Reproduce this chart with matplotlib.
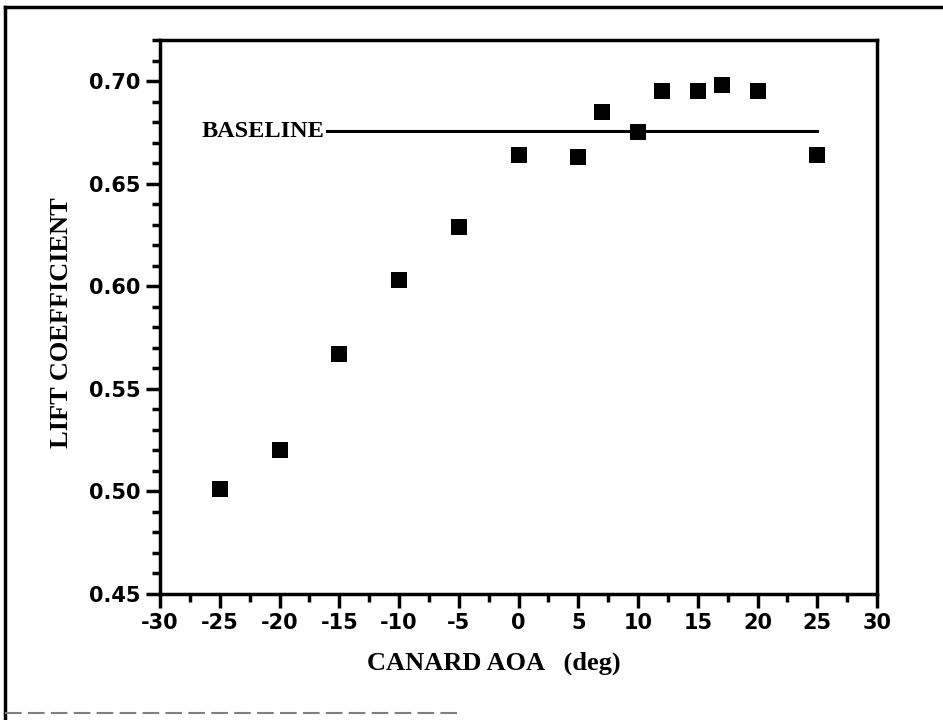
import matplotlib
matplotlib.use("Agg")
import matplotlib.pyplot as plt
from matplotlib.lines import Line2D
from matplotlib.ticker import MultipleLocator

# data
canard_aoa = [-25, -20, -15, -10, -5, 0, 5, 7, 10, 12, 15, 17, 20, 25]
lift_coef = [0.501, 0.520, 0.567, 0.603, 0.629, 0.664, 0.663, 0.685,
             0.675, 0.695, 0.695, 0.698, 0.695, 0.664]
baseline_cl = 0.6755
baseline_x = [-16, 25]
xticks = [-30, -25, -20, -15, -10, -5, 0, 5, 10, 15, 20, 25, 30]
yticks = [0.45, 0.50, 0.55, 0.60, 0.65, 0.70]

fig = plt.figure(figsize=(9.43, 7.2), dpi=100)
ax = fig.add_axes([160/943, 1-594/720, (877-160)/943, (594-40)/720])

ax.plot(canard_aoa, lift_coef, 's', color='black', ms=11, mew=0)
ax.plot(baseline_x, [baseline_cl, baseline_cl], color='black', lw=2.2)
ax.text(baseline_x[0] - 0.2, baseline_cl, 'BASELINE', ha='right', va='center',
        fontsize=17.5, fontweight='bold', family='Liberation Serif')

ax.set_xlim(-30, 30)
ax.set_ylim(0.45, 0.72)
ax.set_xticks(xticks)
ax.set_yticks(yticks)
ax.xaxis.set_minor_locator(MultipleLocator(2.5))
ax.yaxis.set_minor_locator(MultipleLocator(0.01))
ax.set_xticklabels([str(t) for t in xticks])
ax.set_yticklabels(['%.2f' % t for t in yticks])

for s in ax.spines.values():
    s.set_linewidth(2.5)
ax.tick_params(which='both', direction='out', width=2.5, top=False, right=False)
ax.tick_params(which='major', length=10, pad=4)
ax.tick_params(which='minor', length=6)
for lab in ax.get_xticklabels() + ax.get_yticklabels():
    lab.set_family('DejaVu Sans')
    lab.set_fontweight('bold')
    lab.set_fontsize(15)

ax.set_xlabel('CANARD AOA   (deg)', family='Liberation Serif', fontweight='bold',
              fontsize=19)
ax.set_ylabel('LIFT COEFFICIENT', family='Liberation Serif', fontweight='bold',
              fontsize=19)
ax.xaxis.set_label_coords(0.465, -0.104)
ax.yaxis.set_label_coords(-0.122, 0.49)

# outer frame of the scanned page
fig.add_artist(Line2D([5/943, 5/943], [0, 1-7/720], color='black', lw=2.5,
                      transform=fig.transFigure))
fig.add_artist(Line2D([5/943, 1], [1-7/720, 1-7/720], color='black', lw=2.5,
                      transform=fig.transFigure))
fig.add_artist(Line2D([5/943, 460/943], [1-713/720, 1-713/720], color='gray',
                      lw=1.5, ls=(0, (8, 3)), transform=fig.transFigure))

fig.savefig('out.png', dpi=100)
